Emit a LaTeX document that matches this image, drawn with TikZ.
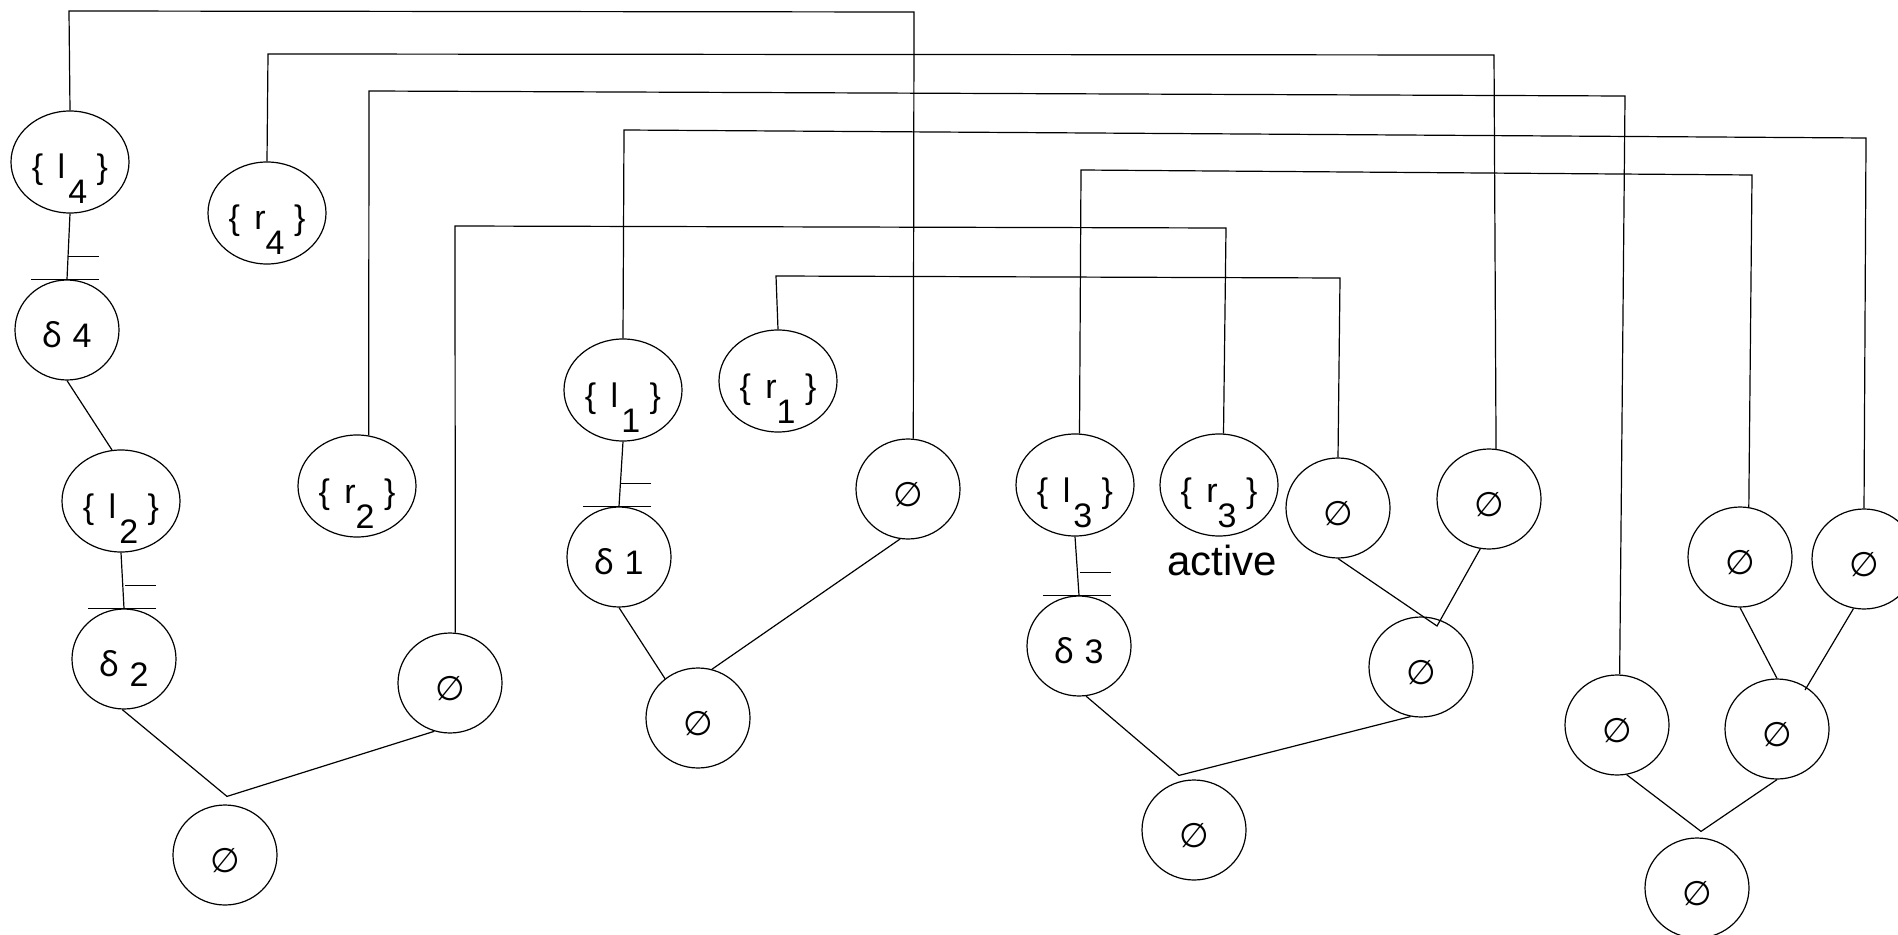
\documentclass[tikz,border=0pt]{standalone}
\usepackage{fontspec}
\setmainfont{Liberation Sans}
\newfontfamily\djv{DejaVu Sans}
\newfontfamily\noto{Noto Sans}
\usetikzlibrary{shapes.geometric,calc}
\newcommand\emptyglyph{{\djv ∅}}
\newcommand\deltaglyph{{\noto ẟ}}
\newcommand\brlab[2]{\{\ \kern2.5pt #1\raisebox{-12.5pt}{#2}\ \}}
\newcommand\tickmark[1]{%
  \draw ($(#1.north)+(-36,0)$) -- ($(#1.north)+(32,0)$);
  \draw ($(#1.north)+(1,-23)$) -- ($(#1.north)+(32,-23)$);}
\begin{document}
\begin{tikzpicture}[x=0.5pt,y=-0.5pt,line width=0.6pt,
  every node/.style={font=\fontsize{17}{20}\selectfont,text height=17pt,text depth=0pt,inner sep=0pt},
  wide/.style={draw,ellipse,minimum width=59pt,minimum height=51pt},
  small/.style={draw,ellipse,minimum width=52pt,minimum height=50pt}]
\useasboundingbox (0,0) rectangle (1898,935);
\clip (0,0) rectangle (1898,935);
% nodes
\node[wide]  (l4) at (70,162)  {\brlab{l\kern1.5pt}{4}};
\node[small] (d4) at (67,330)  {\deltaglyph\ 4};
\node[wide]  (r4) at (267,213) {\brlab{r}{4}};
\node[wide]  (l2) at (121,501) {\brlab{l\kern1.5pt}{2}};
\node[small] (d2) at (124,659) {\deltaglyph\ \raisebox{-5pt}{2}};
\node[wide]  (r2) at (357,486) {\brlab{r}{2}};
\node[small] (n1) at (225,855) {\emptyglyph};
\node[small] (n8) at (450,683) {\emptyglyph};
\node[wide]  (l1) at (623,390) {\brlab{l\kern1.5pt}{1}};
\node[small] (d1) at (619,557) {\deltaglyph\ 1};
\node[wide]  (r1) at (778,381) {\brlab{r}{1}};
\node[small] (n12) at (908,489) {\emptyglyph};
\node[small] (n13) at (698,718) {\emptyglyph};
\node[wide]  (l3) at (1075,485) {\brlab{l\kern1.5pt}{3}};
\node[wide]  (r3) at (1219,485) {\brlab{r}{3}};
\node[anchor=base,font=\fontsize{21}{25}\selectfont,text height=,text depth=] (act) at (1222,575) {active};
\node[small] (d3) at (1079,646) {\deltaglyph\ 3};
\node[small] (n17) at (1338,508) {\emptyglyph};
\node[small] (n18) at (1489,499) {\emptyglyph};
\node[small] (n19) at (1421,667) {\emptyglyph};
\node[small] (n20) at (1194,830) {\emptyglyph};
\node[small] (n21) at (1740,557) {\emptyglyph};
\node[small] (n22) at (1864,559) {\emptyglyph};
\node[small] (n23) at (1617,725) {\emptyglyph};
\node[small] (n24) at (1777,729) {\emptyglyph};
\node[small] (n25) at (1697,888) {\emptyglyph};
% corner coordinates
\coordinate (a1) at (69,11);   \coordinate (a2) at (914,12);
\coordinate (b1) at (268,54);  \coordinate (b2) at (1494,55);
\coordinate (c1) at (369,91);  \coordinate (c2) at (1625,96);
\coordinate (e1) at (624,130); \coordinate (e2) at (1866,138);
\coordinate (f1) at (1081,170);\coordinate (f2) at (1752,175);
\coordinate (g1) at (455,226); \coordinate (g2) at (1226,228);
\coordinate (h1) at (776,276); \coordinate (h2) at (1340,278);
\draw (l4.north) -- (a1) -- (a2) -- (n12.84);
\draw (r4.north) -- (b1) -- (b2) -- (n18.82);
\draw (r2.77) -- (c1) -- (c2) -- (n23.87);
\draw (l1.north) -- (e1) -- (e2) -- (n22.north);
\draw (l3.85) -- (f1) -- (f2) -- (n21.80);
\draw (n8.84) -- (g1) -- (g2) -- (r3.85);
\draw (r1.north) -- (h1) -- (h2) -- (n17.north);
% tree 1
\draw (l4.south) -- (d4.north);
\tickmark{d4}
\draw (d4.south) -- (l2.100);
\draw (l2.south) -- (d2.north);
\tickmark{d2}
\coordinate (v1) at ($(n1.north)+(2,-8)$);
\draw (d2.-92) -- (v1) -- (n8.-108);
% tree 2
\draw (l1.south) -- (d1.north);
\tickmark{d1}
\draw (d1.south) -- (n13.130);
\draw (n12.-99) -- (n13.74);
% tree 3
\draw (l3.south) -- (d3.north);
\tickmark{d3}
\coordinate (v3) at ($(n20.north)+(-15,-4)$);
\draw (d3.-82) -- (v3) -- (n19.-102);
\coordinate (v2) at ($(n19.center)+(16,-41)$);
\draw (n17.south) -- (v2) -- (n18.-100);
% tree 4
\draw (n21.south) -- (n24.north);
\coordinate (v4) at ($(n24.center)+(28,-39)$);
\draw (n22.-102) -- (v4);
\coordinate (v5) at ($(n25.north)+(4,-6)$);
\draw (n23.-79) -- (v5) -- (n24.south);
\end{tikzpicture}
\end{document}
